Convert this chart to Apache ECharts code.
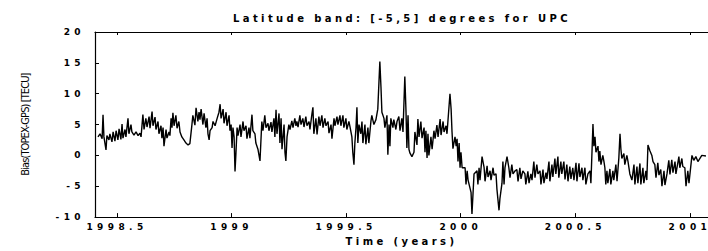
<!DOCTYPE html>
<html><head><meta charset="utf-8">
<script src="https://cdn.jsdelivr.net/npm/echarts@6/dist/echarts.min.js"></script>
<style>
html,body{margin:0;padding:0;background:#fff;}
#c{width:708px;height:251px;}
#c text[style*="9px"]{letter-spacing:4.4px;}
#c text[style*="10px"]{letter-spacing:3.4px;}
#c text[style*="11px"]{letter-spacing:-0.9px;}
</style>
</head><body><div id="c"></div>
<script>
const titleText = 'Latitude band: [-5,5] degrees for UPC';
const xName = 'Time (years)';
const yName = 'Bias(TOPEX-GPS) [TECU]';
const xTicks = [1998.5, 1999, 1999.5, 2000, 2000.5, 2001];
const yMin = -10, yMax = 20, yStep = 5;

const time = [
1998.417,1998.426,1998.435,1998.439,1998.443,1998.452,1998.456,1998.465,1998.469,1998.478,
1998.483,1998.491,1998.496,1998.504,1998.509,1998.517,1998.522,1998.526,1998.535,1998.539,
1998.548,1998.552,1998.561,1998.565,1998.574,1998.583,1998.592,1998.600,1998.605,1998.613,
1998.618,1998.626,1998.631,1998.640,1998.644,1998.653,1998.657,1998.666,1998.670,1998.679,
1998.683,1998.692,1998.696,1998.701,1998.705,1998.714,1998.718,1998.727,1998.731,1998.736,
1998.740,1998.744,1998.749,1998.757,1998.762,1998.770,1998.775,1998.783,1998.792,1998.801,
1998.810,1998.818,1998.827,1998.831,1998.840,1998.845,1998.853,1998.858,1998.862,1998.867,
1998.875,1998.880,1998.888,1998.893,1998.897,1998.902,1998.906,1998.915,1998.919,1998.928,
1998.937,1998.945,1998.950,1998.954,1998.963,1998.967,1998.976,1998.980,1998.989,1998.993,
1998.998,1999.002,1999.006,1999.011,1999.015,1999.019,1999.024,1999.028,1999.037,1999.041,
1999.050,1999.054,1999.063,1999.067,1999.076,1999.080,1999.089,1999.093,1999.102,1999.106,
1999.115,1999.124,1999.132,1999.137,1999.145,1999.150,1999.159,1999.163,1999.172,1999.176,
1999.185,1999.189,1999.194,1999.198,1999.207,1999.211,1999.216,1999.220,1999.229,1999.233,
1999.237,1999.242,1999.250,1999.255,1999.263,1999.268,1999.276,1999.281,1999.285,1999.290,
1999.298,1999.303,1999.311,1999.316,1999.324,1999.329,1999.338,1999.342,1999.351,1999.355,
1999.359,1999.368,1999.373,1999.381,1999.386,1999.394,1999.399,1999.407,1999.412,1999.421,
1999.425,1999.434,1999.438,1999.447,1999.451,1999.460,1999.464,1999.473,1999.477,1999.486,
1999.490,1999.499,1999.503,1999.512,1999.516,1999.525,1999.529,1999.534,1999.538,1999.543,
1999.547,1999.551,1999.556,1999.564,1999.569,1999.573,1999.582,1999.586,1999.595,1999.599,
1999.608,1999.612,1999.621,1999.630,1999.638,1999.647,1999.652,1999.656,1999.665,1999.669,
1999.678,1999.682,1999.687,1999.691,1999.695,1999.704,1999.708,1999.717,1999.722,1999.730,
1999.735,1999.743,1999.748,1999.756,1999.761,1999.765,1999.770,1999.774,1999.778,1999.787,
1999.796,1999.800,1999.809,1999.813,1999.818,1999.826,1999.831,1999.840,1999.844,1999.848,
1999.853,1999.857,1999.861,1999.870,1999.875,1999.883,1999.888,1999.896,1999.901,1999.910,
1999.914,1999.923,1999.927,1999.936,1999.940,1999.953,1999.958,1999.962,1999.966,1999.975,
1999.980,1999.984,1999.988,1999.993,1999.997,2000.001,2000.006,2000.019,2000.023,2000.028,
2000.032,2000.045,2000.049,2000.058,2000.071,2000.075,2000.080,2000.084,2000.093,2000.102,
2000.106,2000.115,2000.119,2000.128,2000.132,2000.141,2000.145,2000.154,2000.158,2000.167,
2000.171,2000.180,2000.184,2000.189,2000.193,2000.202,2000.210,2000.215,2000.223,2000.228,
2000.237,2000.245,2000.250,2000.258,2000.263,2000.271,2000.280,2000.284,2000.293,2000.298,
2000.306,2000.311,2000.319,2000.324,2000.332,2000.337,2000.346,2000.350,2000.359,2000.363,
2000.372,2000.376,2000.385,2000.389,2000.398,2000.402,2000.411,2000.415,2000.424,2000.428,
2000.437,2000.441,2000.450,2000.455,2000.463,2000.468,2000.476,2000.481,2000.489,2000.494,
2000.503,2000.507,2000.516,2000.520,2000.529,2000.533,2000.542,2000.546,2000.555,2000.564,
2000.568,2000.577,2000.581,2000.586,2000.590,2000.599,2000.603,2000.607,2000.612,2000.620,
2000.625,2000.629,2000.633,2000.638,2000.642,2000.651,2000.655,2000.664,2000.668,2000.677,
2000.682,2000.690,2000.695,2000.699,2000.703,2000.712,2000.716,2000.725,2000.730,2000.738,
2000.747,2000.756,2000.760,2000.769,2000.773,2000.782,2000.786,2000.795,2000.799,2000.808,
2000.812,2000.817,2000.825,2000.834,2000.839,2000.847,2000.852,2000.860,2000.865,2000.873,
2000.878,2000.887,2000.891,2000.900,2000.908,2000.913,2000.921,2000.926,2000.935,2000.939,
2000.952,2000.956,2000.965,2000.969,2000.978,2000.983,2000.991,2000.996,2001.009,2001.017,
2001.026,2001.035,2001.052,2001.070
];

const bias = [
3.0,3.5,2.7,6.6,3.0,0.9,3.2,2.5,3.5,2.2,
3.8,2.3,4.0,2.5,4.3,2.6,5.1,2.8,4.2,3.0,
6.0,3.5,5.0,3.8,3.3,3.8,3.2,3.6,3.0,6.6,
4.2,6.0,4.6,6.3,4.4,7.1,4.8,6.2,4.2,5.5,
3.5,4.8,2.8,4.5,1.5,4.2,2.8,3.8,3.2,6.0,
4.5,6.9,4.8,6.5,4.4,5.5,3.8,3.0,2.5,2.0,
1.7,1.9,5.0,6.5,4.9,7.7,5.5,7.0,5.8,7.5,
5.0,6.8,4.5,6.0,3.5,2.5,4.0,4.5,5.5,4.8,
6.0,7.0,8.3,6.0,7.5,5.2,7.0,4.8,6.5,4.0,
5.0,1.2,4.5,3.0,-2.6,0.3,4.5,3.2,5.0,3.0,
5.5,4.0,4.8,2.7,4.5,2.8,6.6,4.0,3.5,2.0,
1.0,-0.9,5.5,4.0,6.5,4.5,5.2,4.0,5.4,3.8,
6.0,3.0,7.4,3.5,6.8,2.0,6.0,1.0,5.0,0.5,
-0.9,3.0,5.0,4.2,5.6,4.5,6.0,4.8,5.5,4.6,
6.5,5.0,6.0,4.6,6.3,4.8,5.5,4.2,6.8,7.8,
3.5,6.0,3.4,6.3,4.8,6.5,4.5,6.0,4.8,5.5,
3.6,5.0,2.7,6.0,4.8,6.3,5.0,6.5,4.8,6.5,
4.5,6.0,4.2,5.5,4.8,3.0,0.5,-1.5,2.0,4.5,
7.8,2.0,5.0,3.5,5.5,2.0,5.0,1.8,4.5,2.0,
5.5,6.5,5.0,5.8,7.5,15.2,11.0,7.0,6.0,4.5,
6.5,0.1,5.0,1.5,6.0,4.5,5.8,4.2,5.5,6.3,
4.0,6.0,3.8,12.8,7.3,1.2,6.5,1.0,0.4,-0.2,
0.5,3.8,1.7,5.9,3.0,5.5,2.8,4.5,0.5,4.0,
-0.4,3.5,0.0,3.0,1.0,4.0,2.7,4.9,3.0,5.9,
3.3,5.5,3.8,4.8,3.5,10.0,7.5,3.8,1.1,3.0,
1.5,2.7,-1.0,2.0,-2.0,0.5,-2.0,-2.0,-4.7,-2.5,
-4.0,-6.0,-9.5,-3.0,-2.5,-4.7,-2.0,-4.0,-0.2,-2.0,
-4.2,-1.7,-3.5,-2.5,-4.0,-2.0,-3.2,-3.0,-5.5,-8.9,
-7.0,-4.5,-1.0,-4.7,-2.0,-0.2,-2.0,-3.6,-1.5,-3.0,
-2.5,-2.3,-4.2,-2.0,-3.8,-2.5,-3.0,-4.7,-2.6,-4.5,
-3.0,-4.0,-1.0,-3.6,-1.5,-3.0,-2.5,-4.7,-2.3,-4.5,
-2.8,-3.8,-1.0,-4.2,-1.5,-3.5,-0.5,-3.0,-0.2,-3.6,
-1.0,-3.0,-1.0,-3.9,-1.5,-4.2,-1.8,-3.8,-2.0,-4.0,
-1.2,-4.2,-1.3,-3.5,-2.0,-4.0,-2.0,-4.7,-3.0,-2.5,
-4.5,5.1,1.5,3.0,0.5,1.5,-1.0,0.7,-1.5,0.0,
-1.0,-2.0,-4.7,-2.5,-4.5,-2.2,-4.7,-2.5,-4.0,-1.5,
-4.2,-0.4,3.5,1.0,-0.5,0.3,-1.5,0.0,-1.0,-3.0,
-4.0,-1.5,-4.7,-1.8,-4.5,-1.3,-4.7,-2.0,-4.5,-2.5,
-4.0,1.7,0.8,0.0,-1.0,-1.5,-3.6,-1.2,-3.2,-2.3,
-5.0,-2.5,-4.8,-3.0,-0.8,-3.1,-0.7,-2.8,-1.0,-3.0,
-0.2,-2.0,-0.5,-1.8,-2.0,-5.0,-2.5,-4.5,0.0,-0.8,
-0.2,-1.0,0.0,-0.1
];

const xMin = 1998.404, xMax = 2001.079;

const chart = echarts.init(document.getElementById('c'), null, {renderer: 'svg'});
const tickFont = {fontFamily: 'DejaVu Sans', fontWeight: 'bold', fontSize: 9, color: '#000'};
const axisLine = {show: true, onZero: false, lineStyle: {color: '#000', width: 1.2}};
chart.setOption({
  animation: false,
  title: {
    text: titleText, left: 402, top: 13, textAlign: 'center', padding: 0,
    textStyle: {fontFamily: 'DejaVu Sans', fontWeight: 'bold', fontSize: 10, color: '#000'}
  },
  grid: {left: 95, right: 0, top: 32, bottom: 31},
  xAxis: [{
    type: 'value', min: xMin, max: xMax, position: 'bottom',
    name: xName, nameLocation: 'middle', nameGap: 18,
    nameTextStyle: {fontFamily: 'DejaVu Sans', fontWeight: 'bold', fontSize: 10, color: '#000'},
    axisLine: axisLine,
    axisTick: {show: true, inside: true, length: 4, customValues: xTicks, lineStyle: {color: '#000'}},
    axisLabel: {customValues: xTicks, margin: 5, formatter: v => String(v), ...tickFont},
    splitLine: {show: false}
  }, {
    type: 'value', min: xMin, max: xMax, position: 'top',
    axisLine: axisLine,
    axisTick: {show: true, inside: true, length: 3, customValues: xTicks, lineStyle: {color: '#000'}},
    axisLabel: {show: false},
    splitLine: {show: false}
  }],
  yAxis: {
    type: 'value', min: yMin, max: yMax, interval: yStep,
    name: yName, nameLocation: 'middle', nameGap: 64, nameRotate: 90,
    nameTextStyle: {fontFamily: 'Liberation Sans Narrow, DejaVu Sans Condensed, Liberation Sans', fontSize: 11, color: '#000'},
    axisLine: axisLine,
    axisTick: {show: true, inside: true, length: 4, lineStyle: {color: '#000'}},
    axisLabel: {margin: 10, ...tickFont},
    splitLine: {show: false}
  },
  series: [{
    type: 'line', xAxisIndex: 0, smooth: false,
    data: time.map((t, i) => [t, bias[i]]),
    showSymbol: false, symbol: 'none',
    lineStyle: {color: '#000', width: 1.4},
    silent: true
  }]
});
</script>
</body></html>
